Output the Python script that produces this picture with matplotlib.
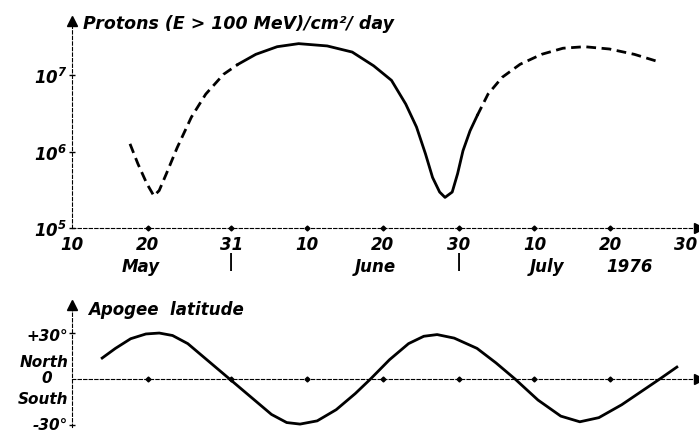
import matplotlib
matplotlib.use("Agg")
import matplotlib.pyplot as plt
import matplotlib.transforms as mtransforms
import numpy as np

plt.rcParams['font.family'] = ['DejaVu Sans']
plt.rcParams['font.style'] = 'italic'
plt.rcParams['font.weight'] = 'bold'
plt.rcParams['mathtext.fontset'] = 'custom'
plt.rcParams['mathtext.bf'] = 'DejaVu Sans:bold:italic'
plt.rcParams['mathtext.rm'] = 'DejaVu Sans:bold:italic'

# days counted from 10 May 1976
tick_days = [0, 10, 21, 31, 41, 51, 61, 71, 81]
tick_labels = ['10', '20', '31', '10', '20', '30', '10', '20', '30']

# proton flux, log10 values
dash1_day = [7.65, 8.69, 9.87, 10.8, 11.5, 12.45, 13.87, 15.75, 17.64, 20.0, 21.9]
dash1_log = [6.10, 5.84, 5.58, 5.42, 5.49, 5.71, 6.05, 6.45, 6.75, 7.01, 7.14]

solid_day = [21.9, 24.24, 27.06, 29.89, 33.66, 36.96, 39.79, 42.14, 44.02, 45.44,
             46.62, 47.56, 48.49, 49.2, 50.15, 50.86, 51.57, 52.5, 53.45]
solid_log = [7.14, 7.27, 7.37, 7.41, 7.38, 7.30, 7.12, 6.93, 6.62, 6.32,
             5.97, 5.66, 5.47, 5.40, 5.47, 5.71, 6.01, 6.27, 6.47]

dash2_day = [53.45, 54.87, 56.74, 59.1, 61.93, 64.76, 67.59, 70.88, 74.18, 77.48]
dash2_log = [6.47, 6.75, 6.97, 7.14, 7.27, 7.35, 7.37, 7.34, 7.27, 7.17]

# apogee latitude, degrees
lat_day = [3.98, 5.73, 7.74, 9.75, 11.51, 13.26, 15.27, 17.78, 20.79, 23.80,
           26.31, 28.32, 30.08, 32.34, 34.85, 37.36, 39.37, 41.88, 44.39, 46.40,
           48.16, 50.41, 53.42, 55.93, 58.44, 61.46, 64.47, 66.98, 69.49, 72.50,
           75.01, 77.52, 79.78]
lat_deg = [13.7, 20.0, 26.3, 29.4, 30.0, 28.4, 23.1, 12.6, 0.0, -12.6,
           -23.1, -28.4, -29.4, -27.3, -20.0, -9.5, 0.0, 12.6, 23.1, 27.9,
           29.0, 26.7, 20.0, 10.5, 0.0, -13.7, -24.2, -27.9, -25.2, -16.8,
           -8.4, 0.0, 7.8]

W, H = 699, 435
fig = plt.figure(figsize=(W / 100, H / 100), dpi=100)


def frac(x0, y_top, x1, y_bot):
	return [x0 / W, 1 - y_bot / H, (x1 - x0) / W, (y_bot - y_top) / H]


xmax = 82.7
lw = 2.0
dash = (3.5, 2.0)

# ---- top panel: proton flux
ax = fig.add_axes(frac(72, 22, 699, 229))
ax.set_yscale('log')
ax.plot(dash1_day, 10 ** np.array(dash1_log), color='black', lw=lw, dashes=dash)
ax.plot(solid_day, 10 ** np.array(solid_log), color='black', lw=lw)
ax.plot(dash2_day, 10 ** np.array(dash2_log), color='black', lw=lw, dashes=dash)
ax.set_xlim(0, xmax)
ax.set_ylim(1e5, 10 ** 7.706)

for s in ['top', 'right']:
	ax.spines[s].set_visible(False)
for s in ['left', 'bottom']:
	ax.spines[s].set_linestyle((0, (3, 2)))
	ax.spines[s].set_linewidth(0.8)

ax.set_xticks(tick_days)
ax.set_xticklabels(tick_labels, fontsize=12)
ax.tick_params(axis='x', length=0, pad=5)
ax.plot(tick_days[1:-1], [1e5] * (len(tick_days) - 2), 'D', color='black',
        ms=2.5, clip_on=False)

ax.set_yticks([1e5, 1e6, 1e7])
ax.set_yticklabels([r'$\mathbf{10^5}$', r'$\mathbf{10^6}$', r'$\mathbf{10^7}$'],
                   fontsize=12)
ax.minorticks_off()
ax.tick_params(axis='y', direction='inout', length=5, width=1, pad=1)

ax.plot([0], [10 ** 7.706], '^', color='black', ms=7, clip_on=False)
ax.plot([xmax], [1e5], '>', color='black', ms=7, clip_on=False)

trans = mtransforms.blended_transform_factory(ax.transData, ax.transAxes)
months = [(9.0, 'May'), (40.0, 'June'), (62.7, 'July'), (73.5, '1976')]
for d, name in months:
	ax.text(d, -0.183, name, transform=trans, ha='center', va='center', fontsize=12)
for d in [21, 51]:
	ax.text(d, -0.16, '|', transform=trans, ha='center', va='center', fontsize=12)

fig.text(83 / W, 1 - 24 / H, 'Protons (E > 100 MeV)/cm²/ day', ha='left',
         va='center', fontsize=12.5)

# ---- bottom panel: apogee latitude
ax2 = fig.add_axes(frac(72, 306, 699, 428))
ax2.plot(lat_day, lat_deg, color='black', lw=lw)
ax2.set_xlim(0, xmax)
ax2.set_ylim(-31.3, 48.3)
for s in ['top', 'right']:
	ax2.spines[s].set_visible(False)
ax2.spines['bottom'].set_position(('data', 0))
for s in ['left', 'bottom']:
	ax2.spines[s].set_linestyle((0, (3, 2)))
	ax2.spines[s].set_linewidth(0.8)
ax2.set_xticks([])
ax2.set_yticks([30, -30])
ax2.set_yticklabels([])
ax2.tick_params(axis='y', direction='inout', length=5, width=1)
ax2.plot(tick_days[1:-1], [0] * (len(tick_days) - 2), 'D', color='black',
         ms=2.5)
ax2.plot([0], [48.3], '^', color='black', ms=7, clip_on=False)
ax2.plot([xmax], [0], '>', color='black', ms=7, clip_on=False)

trans2 = mtransforms.blended_transform_factory(ax2.transAxes, ax2.transData)
ax2.text(-0.006, 28.5, '+30°', transform=trans2, ha='right', va='center', fontsize=11)
ax2.text(-0.006, 11.5, 'North', transform=trans2, ha='right', va='center', fontsize=11)
ax2.text(-0.04, 1.0, '0', transform=trans2, ha='center', va='center', fontsize=11)
ax2.text(-0.006, -13.0, 'South', transform=trans2, ha='right', va='center', fontsize=11)
ax2.text(-0.006, -29.5, '-30°', transform=trans2, ha='right', va='center', fontsize=11)

fig.text(88 / W, 1 - 310 / H, 'Apogee  latitude', ha='left', va='center',
         fontsize=12)

fig.savefig('out.png', dpi=100)
